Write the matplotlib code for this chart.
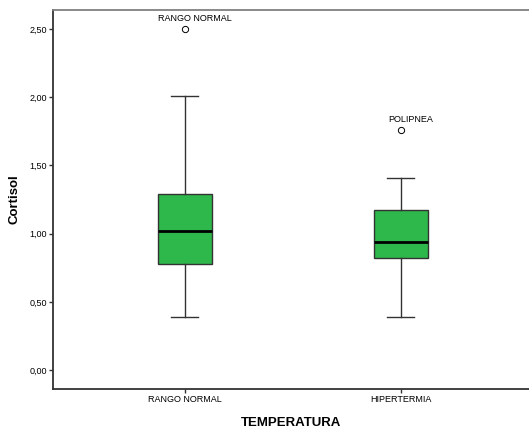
import matplotlib
matplotlib.use("Agg")
import matplotlib.pyplot as plt

plt.rcParams['font.family'] = ['Liberation Sans', 'DejaVu Sans']

categories = ["RANGO NORMAL", "HIPERTERMIA"]
whislo = [0.39, 0.39]
q1 = [0.777, 0.823]
med = [1.021, 0.941]
q3 = [1.288, 1.171]
whishi = [2.011, 1.41]
outliers = [[2.50], [1.76]]
outlier_labels = ["RANGO NORMAL", "POLIPNEA"]
yticks = [0.0, 0.5, 1.0, 1.5, 2.0, 2.5]

stats = []
for i in range(len(categories)):
    stats.append(dict(whislo=whislo[i], q1=q1[i], med=med[i], q3=q3[i],
                      whishi=whishi[i], fliers=outliers[i]))

fig = plt.figure(figsize=(5.29, 4.28), dpi=100)
ax = fig.add_axes([53 / 529, 1 - 389 / 428, 1 - 53 / 529, (389 - 10) / 428])

positions = [1, 2]
ax.bxp(stats, positions=positions, widths=0.25, patch_artist=True,
       boxprops=dict(facecolor="#2eb84b", edgecolor="#333333", linewidth=1.0),
       medianprops=dict(color="black", linewidth=2.0),
       whiskerprops=dict(color="#333333", linewidth=1.0),
       capprops=dict(color="#333333", linewidth=1.0),
       capwidths=0.125,
       flierprops=dict(marker="o", markersize=4.5, markerfacecolor="white",
                       markeredgecolor="black", markeredgewidth=0.7))

for i, pos in enumerate(positions):
    for v in outliers[i]:
        ax.annotate(outlier_labels[i], (pos, v), xytext=(7.5, 4), textcoords="offset points",
                    ha="center", va="bottom", fontsize=6.5)

ax.set_xlim(0.391, 2.594)
ax.set_ylim(-0.139, 2.639)
ax.set_yticks(yticks)
ax.set_yticklabels([("%.2f" % t).replace(".", ",") for t in yticks], fontsize=6.5)
ax.set_xticks(positions)
ax.set_xticklabels(categories, fontsize=6.5)
ax.tick_params(axis="both", length=3, width=1, color="#333333", pad=1.5)

ax.spines["right"].set_visible(False)
ax.spines["top"].set_color("#808080")
ax.spines["top"].set_linewidth(1.3)
for s in ["left", "bottom"]:
    ax.spines[s].set_color("#333333")
    ax.spines[s].set_linewidth(1.3)

ax.set_ylabel("Cortisol", fontsize=9.5, fontweight="bold", labelpad=6)
ax.set_xlabel("TEMPERATURA", fontsize=9.5, fontweight="bold", labelpad=9)

fig.savefig("out.png", dpi=100)
